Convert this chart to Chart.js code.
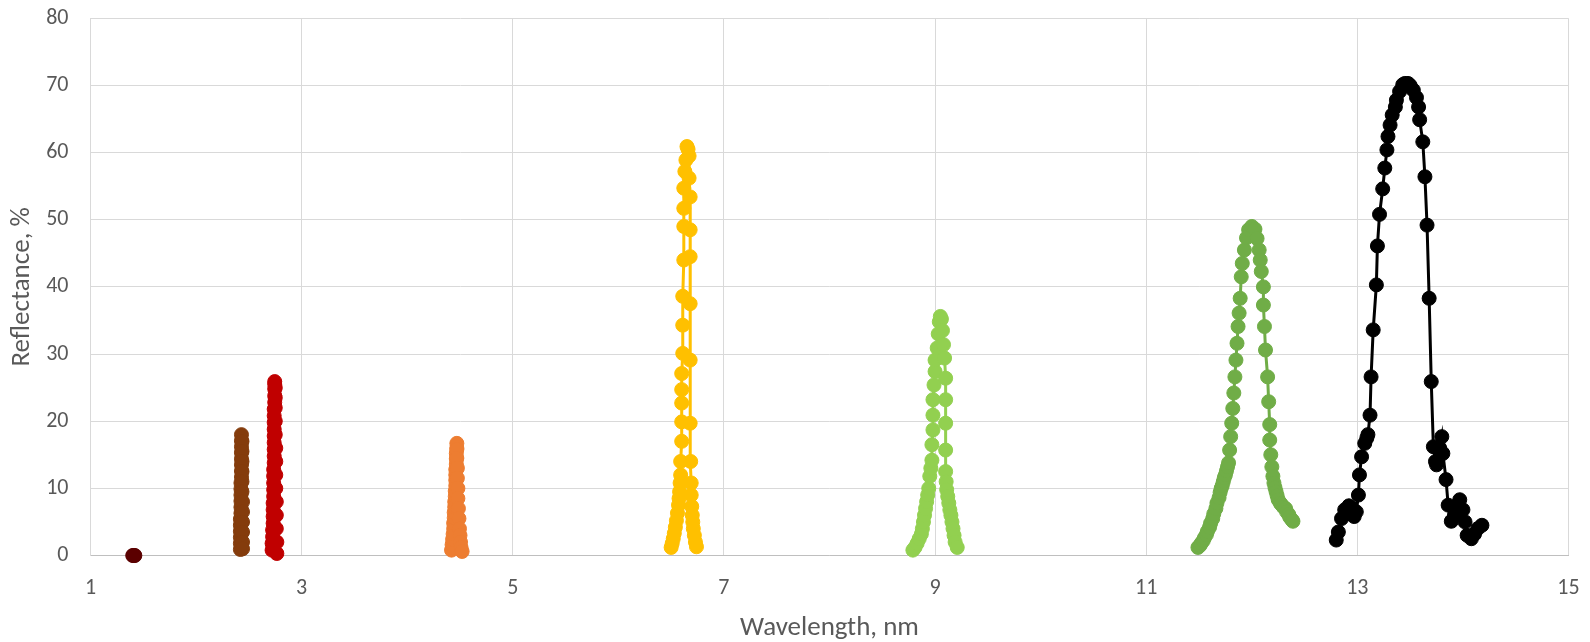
<!DOCTYPE html>
<html>
<head>
<meta charset="utf-8">
<script src="https://cdn.jsdelivr.net/npm/chart.js@4.4.1/dist/chart.umd.min.js"></script>
<style>
  html, body { margin: 0; padding: 0; background: #ffffff; }
  #wrap { width: 1590px; height: 642px; position: relative; }
</style>
</head>
<body>
<div id="wrap"><canvas id="c" width="1590" height="642"></canvas></div>
<script>
// ---- data ----
const xTickLabels = [1, 3, 5, 7, 9, 11, 13, 15];
const yTickLabels = [0, 10, 20, 30, 40, 50, 60, 70, 80];

const s1X = [1.40, 1.41, 1.42];
const s1Y = [0, 0, 0];

const s2X = [2.42, 2.42, 2.42, 2.42, 2.42, 2.42, 2.425, 2.425, 2.425, 2.425, 2.425, 2.425, 2.43, 2.43, 2.43, 2.43, 2.43, 2.43, 2.43, 2.43,
             2.435, 2.435, 2.435, 2.435, 2.435, 2.435, 2.44, 2.44, 2.44, 2.44, 2.44, 2.44];
const s2Y = [0.9, 1.8, 2.7, 3.6, 4.5, 5.4, 6.3, 7.2, 8.1, 9.0, 9.9, 10.8, 11.7, 12.6, 13.5, 14.4, 15.3, 16.2, 17.1, 18.0,
             17.0, 15.5, 14.0, 12.5, 11.0, 9.5, 8.0, 6.5, 5.0, 3.5, 2.0, 1.0];

const s3X = [2.72, 2.72, 2.725, 2.725, 2.73, 2.73, 2.73, 2.73, 2.735, 2.735, 2.735, 2.735, 2.735, 2.74, 2.74, 2.74, 2.74, 2.74, 2.74,
             2.74, 2.74, 2.74, 2.745, 2.745, 2.745, 2.745, 2.745,
             2.75, 2.75, 2.75, 2.75, 2.75, 2.755, 2.755, 2.755, 2.755, 2.76, 2.76, 2.76, 2.765, 2.765];
const s3Y = [0.8, 1.8, 2.8, 3.8, 4.8, 5.8, 6.8, 7.8, 8.8, 9.8, 10.8, 11.8, 12.8, 13.8, 14.8, 15.8, 16.8, 17.8, 18.8,
             19.8, 20.8, 21.8, 22.8, 23.8, 24.8, 25.5, 25.9,
             25.0, 23.5, 22.0, 20.0, 18.0, 16.0, 14.0, 12.0, 10.0, 8.0, 6.0, 4.0, 2.0, 0.3];

const s4X = [4.42, 4.425, 4.43, 4.435, 4.44, 4.44, 4.445, 4.445, 4.45, 4.45, 4.455, 4.455, 4.46, 4.46, 4.46, 4.46, 4.465, 4.465, 4.465, 4.47, 4.47,
             4.47, 4.47, 4.475, 4.475, 4.48, 4.48, 4.485, 4.49, 4.495, 4.50, 4.505, 4.51, 4.52];
const s4Y = [0.8, 1.6, 2.4, 3.2, 4.0, 4.8, 5.6, 6.4, 7.2, 8.0, 8.8, 9.6, 10.4, 11.2, 12.0, 12.8, 13.6, 14.4, 15.2, 16.0, 16.7,
             15.8, 14.5, 13.0, 11.5, 10.0, 8.5, 7.0, 5.5, 4.0, 3.0, 2.0, 1.2, 0.6];

const s5X = [6.50, 6.51, 6.52, 6.53, 6.54, 6.55, 6.56, 6.57, 6.575, 6.58, 6.585, 6.59, 6.59, 6.60, 6.60, 6.60, 6.60, 6.60, 6.61, 6.61, 6.61,
             6.62, 6.62, 6.62, 6.62, 6.63, 6.64, 6.65,
             6.66, 6.67, 6.67, 6.68, 6.68, 6.68, 6.68, 6.68, 6.68, 6.685, 6.69, 6.69, 6.695, 6.70, 6.705, 6.71, 6.72, 6.73, 6.74];
const s5Y = [1.2, 1.8, 2.5, 3.3, 4.2, 5.2, 6.3, 7.5, 8.5, 9.5, 10.8, 12.0, 14.0, 17.0, 19.9, 22.7, 24.7, 27.1, 30.1, 34.3, 38.6,
             44.0, 49.0, 51.7, 54.7, 57.2, 58.9, 60.9,
             60.5, 59.5, 56.2, 53.4, 48.5, 44.5, 37.5, 29.1, 19.7, 14.0, 10.8, 9.0, 7.3, 6.0, 5.0, 4.0, 3.0, 2.0, 1.3];

const s6X = [8.79, 8.81, 8.83, 8.85, 8.87, 8.88, 8.89, 8.90, 8.91, 8.92, 8.93, 8.94, 8.95, 8.96, 8.97, 8.97, 8.98, 8.98, 8.98, 8.99, 9.00,
             9.00, 9.02, 9.03, 9.04, 9.05,
             9.06, 9.07, 9.08, 9.09, 9.10, 9.10, 9.10, 9.10, 9.10, 9.105, 9.11, 9.12, 9.13, 9.14, 9.15, 9.16, 9.17, 9.18, 9.19, 9.21];
const s6Y = [0.8, 1.2, 1.8, 2.5, 3.2, 4.0, 5.0, 6.0, 7.0, 8.0, 9.0, 10.0, 11.8, 13.0, 14.2, 16.5, 18.7, 20.9, 23.2, 25.4, 27.4,
             29.1, 30.9, 33.0, 34.8, 35.6,
             35.2, 33.5, 31.4, 29.4, 26.4, 23.2, 19.7, 15.7, 12.5, 11.0, 9.8, 8.8, 7.8, 6.8, 6.0, 5.0, 4.0, 3.0, 2.0, 1.2];

const s7X = [11.49, 11.51, 11.52, 11.54, 11.55, 11.57, 11.58, 11.60, 11.61, 11.63, 11.64, 11.66, 11.67, 11.69, 11.70, 11.71, 11.72, 11.73,
             11.74, 11.75, 11.76, 11.77, 11.78, 11.79, 11.80, 11.81, 11.82, 11.83, 11.84,
             11.85, 11.86, 11.87, 11.88, 11.89, 11.90, 11.91, 11.93, 11.95, 11.97, 12.00,
             12.03, 12.05, 12.07, 12.08, 12.09, 12.11, 12.11, 12.12, 12.13, 12.15, 12.16, 12.17, 12.17, 12.18, 12.19, 12.20, 12.21,
             12.22, 12.23, 12.24, 12.25, 12.27, 12.28, 12.30, 12.32, 12.33, 12.35, 12.36, 12.38, 12.39];
const s7Y = [1.2, 1.5, 1.8, 2.2, 2.6, 3.1, 3.6, 4.2, 4.8, 5.5, 6.2, 7.0, 7.8, 8.6, 9.4, 10.0, 10.4, 11.0,
             11.6, 12.0, 12.6, 13.2, 13.8, 15.7, 17.7, 19.7, 21.9, 24.2, 26.6,
             29.1, 31.6, 34.1, 36.1, 38.3, 41.5, 43.5, 45.5, 47.3, 48.5, 49.0,
             48.6, 47.2, 45.5, 44.0, 42.3, 40.0, 37.3, 34.1, 30.6, 26.6, 22.9, 19.5, 17.2, 15.0, 13.2, 11.8, 10.8,
             10.1, 9.5, 8.9, 8.3, 7.8, 7.6, 7.2, 7.0, 6.5, 6.1, 5.7, 5.3, 5.1];

const s8X = [12.80, 12.82, 12.85, 12.88, 12.92, 12.95, 12.97, 12.99, 13.01, 13.02, 13.04, 13.07, 13.09, 13.10, 13.12, 13.13, 13.15,
             13.18, 13.19, 13.21, 13.24, 13.26, 13.28, 13.29, 13.31, 13.33, 13.36, 13.37, 13.40, 13.43, 13.45, 13.48, 13.50,
             13.53, 13.56, 13.58, 13.59, 13.62, 13.64, 13.66, 13.68, 13.70, 13.72, 13.74, 13.75, 13.78, 13.80, 13.81, 13.84, 13.86,
             13.89, 13.92, 13.95, 13.97, 14.00, 14.02, 14.04, 14.08, 14.11, 14.14, 14.18];
const s8Y = [2.3, 3.5, 5.5, 6.8, 7.4, 7.0, 5.8, 6.5, 9.0, 12.0, 14.7, 16.7, 17.5, 18.0, 20.9, 26.6, 33.6,
             40.3, 46.1, 50.8, 54.6, 57.7, 60.4, 62.4, 64.1, 65.6, 66.8, 67.8, 69.1, 70.1, 70.3, 70.3, 70.0,
             69.3, 68.2, 66.8, 64.9, 61.6, 56.4, 49.2, 38.3, 25.9, 16.2, 14.0, 13.5, 16.0, 17.7, 15.2, 11.3, 7.5,
             5.1, 6.0, 7.5, 8.3, 6.8, 5.0, 3.0, 2.5, 3.2, 4.0, 4.5];

const seriesColors = ['#5B0000', '#843C0C', '#C00000', '#ED7D31', '#FFC000', '#92D050', '#70AD47', '#000000'];
const seriesX = [s1X, s2X, s3X, s4X, s5X, s6X, s7X, s8X];
const seriesY = [s1Y, s2Y, s3Y, s4Y, s5Y, s6Y, s7Y, s8Y];

// ---- chart ----
const FONT = "Carlito, Calibri, Lato, 'Open Sans', sans-serif";
const TEXT = '#595959';

const datasets = seriesX.map((xs, i) => ({
  label: 'Series ' + (i + 1),
  data: xs.map((x, j) => ({ x: x, y: seriesY[i][j] })),
  showLine: true,
  borderColor: seriesColors[i],
  backgroundColor: seriesColors[i],
  pointBackgroundColor: seriesColors[i],
  pointBorderColor: seriesColors[i],
  borderWidth: 3,
  pointRadius: 7,
  pointBorderWidth: 1,
  pointHoverRadius: 7,
  tension: 0,
  clip: false
}));

const bgPlugin = {
  id: 'bg',
  beforeDraw(chart) {
    const ctx = chart.ctx;
    ctx.save();
    ctx.fillStyle = '#ffffff';
    ctx.fillRect(0, 0, chart.width, chart.height);
    ctx.restore();
  }
};

new Chart(document.getElementById('c'), {
  type: 'scatter',
  data: { datasets: datasets },
  options: {
    responsive: false,
    devicePixelRatio: 1,
    animation: false,
    events: [],
    layout: { padding: { top: 18.3, right: 21.5, left: 0, bottom: 0 } },
    plugins: { legend: { display: false }, tooltip: { enabled: false } },
    scales: {
      x: {
        type: 'linear',
        min: xTickLabels[0],
        max: xTickLabels[xTickLabels.length - 1],
        afterBuildTicks(scale) { scale.ticks = xTickLabels.map(v => ({ value: v })); },
        afterFit(scale) { scale.height = 86.5; },
        ticks: { color: TEXT, font: { family: FONT, size: 22 }, padding: 0, maxRotation: 0, autoSkip: false },
        grid: { color: '#d9d9d9', lineWidth: 1, drawTicks: true, tickLength: 20, tickColor: 'rgba(0,0,0,0)' },
        border: { color: '#bfbfbf', width: 1 },
        title: { display: true, text: 'Wavelength, nm', color: TEXT, font: { family: FONT, size: 27, lineHeight: 1 }, padding: { top: 0, bottom: 0 } }
      },
      y: {
        type: 'linear',
        min: yTickLabels[0],
        max: yTickLabels[yTickLabels.length - 1],
        afterBuildTicks(scale) { scale.ticks = yTickLabels.map(v => ({ value: v })); },
        afterFit(scale) { scale.width = 90.5; },
        ticks: { color: TEXT, font: { family: FONT, size: 22 }, padding: 0, autoSkip: false },
        grid: { color: '#d9d9d9', lineWidth: 1, drawTicks: true, tickLength: 22, tickColor: 'rgba(0,0,0,0)' },
        border: { color: '#d9d9d9', width: 1 },
        title: { display: true, text: 'Reflectance, %', color: TEXT, font: { family: FONT, size: 27, lineHeight: 1 }, padding: { top: 9, bottom: 0 } }
      }
    }
  },
  plugins: [bgPlugin]
});
</script>
</body>
</html>
